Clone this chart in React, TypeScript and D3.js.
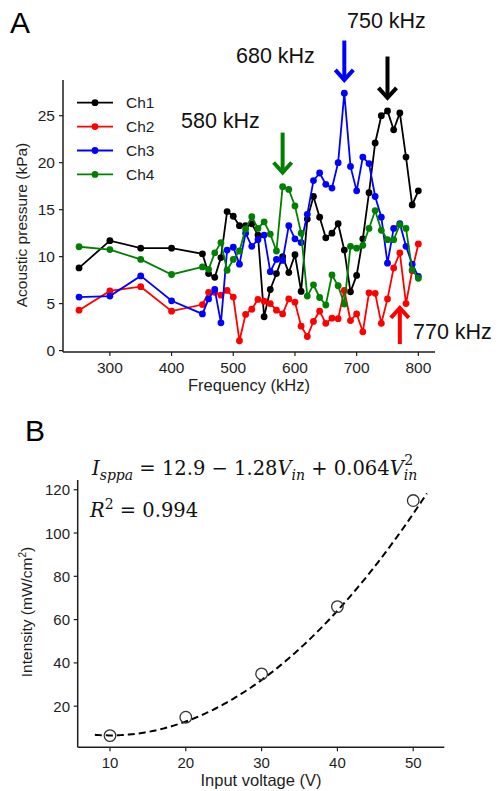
import * as d3 from 'd3'

// panel A: acoustic pressure per channel vs frequency
const FREQ = [250, 300, 350, 400, 450, 460, 470, 480, 490, 500, 510, 520, 530, 540, 550, 560, 570, 580, 590, 600,
  610, 620, 630, 640, 650, 660, 670, 680, 690, 700, 710, 720, 730, 740, 750, 760, 770, 780, 790, 800]
const CH1 = [8.8, 11.7, 10.9, 10.9, 10.3, 8.2, 7.8, 9.9, 14.8, 14.3, 13.3, 13.3, 13.5, 12.3, 3.6, 6.5, 8.2, 10.0, 8.3, 10.2,
  6.3, 14.0, 16.4, 14.2, 12.0, 12.5, 13.5, 10.7, 6.25, 8.0, 11.9, 16.8, 22.1, 25.0, 25.5, 23.5, 25.3, 20.6, 15.5, 17.0]
const CH2 = [4.3, 6.35, 6.8, 4.2, 4.9, 6.2, 6.2, 5.9, 6.4, 5.7, 1.05, 3.85, 4.4, 5.45, 5.25, 5.0, 4.3, 3.9, 5.5, 5.15,
  2.6, 1.5, 3.1, 4.2, 2.9, 3.45, 3.4, 6.4, 3.2, 3.9, 2.0, 6.15, 6.1, 2.9, 5.5, 8.8, 10.4, 5.0, 8.5, 11.35]
const CH3 = [5.7, 5.8, 7.95, 5.3, 3.9, 5.5, 6.5, 2.95, 10.7, 11.0, 9.2, 12.5, 11.1, 11.8, 12.3, 8.4, 9.7, 9.6, 13.3, 11.9,
  11.5, 14.5, 18.1, 18.9, 17.7, 17.3, 20.0, 27.4, 19.6, 17.0, 20.6, 19.9, 16.4, 14.2, 9.3, 13.0, 13.5, 11.1, 9.2, 7.9]
const CH4 = [11.05, 10.75, 9.7, 8.1, 8.9, 8.65, 10.4, 11.5, 8.55, 9.7, 10.6, 12.95, 14.25, 13.0, 13.7, 12.4, 10.6, 17.45, 17.15, 15.4,
  12.5, 5.8, 7.0, 5.65, 4.85, 8.05, 6.9, 4.95, 11.1, 10.9, 11.2, 13.0, 14.9, 12.8, 11.8, 11.8, 13.4, 13.0, 8.6, 7.7]
const CHANNELS = ['Ch1', 'Ch2', 'Ch3', 'Ch4']
const COLORS = ['#000000', '#ff0000', '#0000ff', '#008000']
const A_XTICKS = [300, 400, 500, 600, 700, 800]
const A_YTICKS = [0, 5, 10, 15, 20, 25]

// resonance markers: frequency, arrow tail / tip in kPa
const PEAK_FREQ = [580, 680, 750, 770]
const PEAK_TAIL = [23.2, 33.0, 31.3, 0.7]
const PEAK_TIP = [18.85, 28.7, 26.8, 4.65]
const PEAK_COLOR = ['#008000', '#0000ff', '#000000', '#ff0000']

// panel B: intensity vs input voltage
const VOLTAGE = [10, 20, 30, 40, 50]
const INTENSITY = [6.4, 14.9, 34.9, 66.0, 115.0]
const FIT = [12.9, -1.28, 0.064]
const FIT_RANGE = [8, 51.8]
const B_XTICKS = [10, 20, 30, 40, 50]
const B_YTICKS = [20, 40, 60, 80, 100, 120]

const SANS = '"Liberation Sans", Arial, sans-serif'
const SERIF = '"DejaVu Serif", "Liberation Serif", serif'
const AXIS = '#1e1e1e'

export default function App() {
  const series = CHANNELS.map((name, i) => ({
    name, color: COLORS[i],
    pts: FREQ.map((f, j) => ({ f, v: [CH1, CH2, CH3, CH4][i][j] })),
  }))

  const xA = d3.scaleLinear().domain([224, 827]).range([63, 435])
  const yA = d3.scaleLinear().domain([-0.15, 28.8]).range([352, 80])
  const lineA = d3.line<{ f: number, v: number }>().x(d => xA(d.f)).y(d => yA(d.v))

  const xB = d3.scaleLinear().domain([5.74, 54.1]).range([77.7, 444.3])
  const yB = d3.scaleLinear().domain([1, 124.5]).range([747.3, 480])
  // dashed curve = the quadratic fit printed on the chart
  const fitPts = d3.range(FIT_RANGE[0], FIT_RANGE[1] + 0.01, 0.2).map(v => [v, FIT[0] + FIT[1] * v + FIT[2] * v * v])
  const fitLine = d3.line<number[]>().x(d => xB(d[0])).y(d => yB(d[1]))

  return (
    <div style={{ position: 'absolute', left: 0, top: 0 }}>
      <svg width={502} height={791} style={{ display: 'block', background: '#fff' }}>
        {/* ---------- Panel A ---------- */}
        <text x={10} y={33} fontFamily={SANS} fontSize={30} fill="#000">A</text>

        {series.map(s => (
          <g key={s.name}>
            <path d={lineA(s.pts) || ''} fill="none" stroke={s.color} strokeWidth={1.8} />
            {s.pts.map((p, j) => (
              <circle key={j} cx={xA(p.f)} cy={yA(p.v)} r={3.4} fill={s.color} />
            ))}
          </g>
        ))}

        {/* axes */}
        <line x1={63} x2={63} y1={80} y2={352} stroke={AXIS} strokeWidth={1.5} />
        <line x1={63} x2={435} y1={352} y2={352} stroke={AXIS} strokeWidth={1.5} />
        {A_YTICKS.map(t => (
          <g key={t}>
            <line x1={59} x2={63} y1={yA(t)} y2={yA(t)} stroke={AXIS} strokeWidth={1.2} />
            <text x={55} y={yA(t) + 5.5} textAnchor="end" fontFamily={SANS} fontSize={15.5} fill={AXIS}>{t}</text>
          </g>
        ))}
        {A_XTICKS.map(t => (
          <g key={t}>
            <line x1={xA(t)} x2={xA(t)} y1={352} y2={356} stroke={AXIS} strokeWidth={1.2} />
            <text x={xA(t)} y={373} textAnchor="middle" fontFamily={SANS} fontSize={15.5} fill={AXIS}>{t}</text>
          </g>
        ))}
        <text x={249} y={391} textAnchor="middle" fontFamily={SANS} fontSize={16.5} fill={AXIS}>Frequency (kHz)</text>
        <text transform="translate(27,225) rotate(-90)" textAnchor="middle" fontFamily={SANS} fontSize={15.5} fill={AXIS}>
          Acoustic pressure (kPa)
        </text>

        {/* legend */}
        {series.map((s, i) => {
          const y = 102.7 + i * 23.9
          return (
            <g key={s.name}>
              <line x1={77} x2={113} y1={y} y2={y} stroke={s.color} strokeWidth={1.8} />
              <circle cx={95} cy={y} r={3.4} fill={s.color} />
              <text x={126} y={y + 5.5} fontFamily={SANS} fontSize={15.5} fill={AXIS}>{s.name}</text>
            </g>
          )
        })}

        {/* peak arrows */}
        {PEAK_FREQ.map((f, i) => {
          const x = xA(f)
          const y0 = yA(PEAK_TAIL[i])
          const y1 = yA(PEAK_TIP[i])
          const dir = y1 > y0 ? 1 : -1
          return (
            <g key={f} stroke={PEAK_COLOR[i]} strokeWidth={4} fill="none">
              <line x1={x} x2={x} y1={y0} y2={y1 - dir * 2} />
              <polyline points={`${x - 9},${y1 - dir * 11} ${x},${y1 - dir * 1} ${x + 9},${y1 - dir * 11}`} strokeLinejoin="miter" />
            </g>
          )
        })}
        <text x={181} y={128} fontFamily={SANS} fontSize={21.5} fill="#111">580 kHz</text>
        <text x={236} y={63} fontFamily={SANS} fontSize={21.5} fill="#111">680 kHz</text>
        <text x={347} y={28} fontFamily={SANS} fontSize={21.5} fill="#111">750 kHz</text>
        <text x={413} y={339} fontFamily={SANS} fontSize={21.5} fill="#111">770 kHz</text>

        {/* ---------- Panel B ---------- */}
        <text x={25} y={441} fontFamily={SANS} fontSize={30} fill="#000">B</text>

        <text x={92} y={475} fontFamily={SERIF} fontSize={19.5} fill="#111">
          <tspan fontStyle="italic">I</tspan>
          <tspan fontStyle="italic" fontSize={14} dy={5}>sppa</tspan>
          <tspan dy={-5}> = 12.9 − 1.28</tspan>
          <tspan fontStyle="italic">V</tspan>
          <tspan fontStyle="italic" fontSize={14} dy={5}>in</tspan>
          <tspan dy={-5}> + 0.064</tspan>
          <tspan fontStyle="italic">V</tspan>
          <tspan fontStyle="italic" fontSize={14} dy={5}>in</tspan>
          <tspan fontSize={14} dx={-13} dy={-15}>2</tspan>
        </text>
        <text x={90} y={517} fontFamily={SERIF} fontSize={19.5} fill="#111">
          <tspan fontStyle="italic">R</tspan>
          <tspan fontSize={14} dy={-8}>2</tspan>
          <tspan dy={8}> = 0.994</tspan>
        </text>

        <path d={fitLine(fitPts) || ''} fill="none" stroke="#000" strokeWidth={2} strokeDasharray="7,4" />
        {VOLTAGE.map((v, i) => (
          <circle key={v} cx={xB(v)} cy={yB(INTENSITY[i])} r={5.8} fill="none" stroke="#333" strokeWidth={1.3} />
        ))}

        <line x1={77.7} x2={77.7} y1={480} y2={747.3} stroke={AXIS} strokeWidth={1.5} />
        <line x1={77.7} x2={444.3} y1={747.3} y2={747.3} stroke={AXIS} strokeWidth={1.5} />
        {B_YTICKS.map(t => (
          <g key={t}>
            <line x1={73.7} x2={77.7} y1={yB(t)} y2={yB(t)} stroke={AXIS} strokeWidth={1.2} />
            <text x={70} y={yB(t) + 5.5} textAnchor="end" fontFamily={SANS} fontSize={15} fill={AXIS}>{t}</text>
          </g>
        ))}
        {B_XTICKS.map(t => (
          <g key={t}>
            <line x1={xB(t)} x2={xB(t)} y1={747.3} y2={751.3} stroke={AXIS} strokeWidth={1.2} />
            <text x={xB(t)} y={768} textAnchor="middle" fontFamily={SANS} fontSize={15} fill={AXIS}>{t}</text>
          </g>
        ))}
        <text x={261} y={786} textAnchor="middle" fontFamily={SANS} fontSize={16.5} fill={AXIS}>Input voltage (V)</text>
        <text transform="translate(32,612) rotate(-90)" textAnchor="middle" fontFamily={SANS} fontSize={15.5} fill={AXIS}>
          Intensity (mW/cm<tspan fontSize={10} dy={-6}>2</tspan><tspan dy={6}>)</tspan>
        </text>
      </svg>
    </div>
  )
}
